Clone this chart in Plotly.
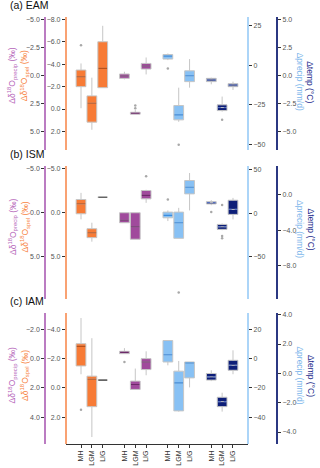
import plotly.graph_objects as go

# ---- data: (lower whisker, q1, median, q3, upper whisker) per period MH, LGM, LIG
PERIODS = ['MH', 'LGM', 'LIG']
PANELS = ['(a) EAM', '(b) ISM', '(c) IAM']

EAM_SPEL = [(-4.06, -3.47, -2.88, -1.99, -0.07), (-2.79, -1.17, -0.51, 1.17, 1.85), (-7.41, -5.99, -3.62, -1.90, -1.90)]
EAM_SPEL_OUT = [[-5.69], [], []]
EAM_D18O = [(-0.32, -0.12, 0.06, 0.27, 0.36), (3.07, 3.29, 3.38, 3.46, 3.46), (-1.59, -1.06, -0.83, -0.56, -0.08)]
EAM_D18O_OUT = [[], [2.69, 2.93], []]
EAM_PREC = [(3.1, 3.75, 5.6, 6.6, 7.25), (-35.6, -34.4, -31.25, -25.4, -14.2), (-14.2, -10.4, -6.7, -3.6, 3.75)]
EAM_PREC_OUT = [[-2.1], [-50.0], []]
EAM_TEMP = [(-0.80, -0.56, -0.41, -0.27, -0.21), (-3.23, -3.14, -2.87, -2.63, -1.89), (-1.30, -1.01, -0.86, -0.74, -0.56)]
EAM_TEMP_OUT = [[], [-3.96], []]

ISM_SPEL = [(-2.25, -1.50, -1.01, 0.12, 0.75), (1.13, 1.81, 2.26, 2.82, 3.28), (-1.76, -1.76, -1.76, -1.76, -1.76)]
ISM_SPEL_OUT = [[], [], []]
ISM_D18O = [(0.0, 0.0, 0.86, 1.13, 1.13), (0.0, 0.0, 1.58, 3.0, 3.0), (-2.6, -2.52, -1.96, -1.57, -1.12)]
ISM_D18O_OUT = [[], [], [-4.13]]
ISM_PREC = [(-8.95, -5.2, -2.45, 1.3, 3.25), (-28.7, -28.7, -10.9, 1.3, 6.2), (3.25, 22.2, 29.8, 37.5, 46.1)]
ISM_PREC_OUT = [[15.8], [-90.7], []]
ISM_TEMP = [(-1.2, -1.06, -0.9, -0.8, -0.64), (-4.0, -3.91, -3.62, -3.35, -3.25), (-2.79, -2.23, -1.67, -0.64, -0.38)]
ISM_TEMP_OUT = [[-1.97], [-1.18, -4.65, -4.91], []]

IAM_SPEL = [(-4.79, -3.03, -2.85, -1.51, -0.94), (-3.41, -0.81, -0.60, 1.28, 3.36), (-0.54, -0.54, -0.54, -0.54, -0.54)]
IAM_SPEL_OUT = [[1.50], [], []]
IAM_D18O = [(-0.73, -0.51, -0.44, -0.35, -0.35), (0.67, 1.53, 1.76, 2.10, 2.10), (-0.51, -0.01, 0.22, 0.74, 1.13)]
IAM_D18O_OUT = [[0.22], [], []]
IAM_PREC = [(-4.5, -2.2, 2.8, 12.5, 12.5), (-36.2, -35.7, -16.5, -8.5, -1.5), (-19.6, -13.1, -2.9, -2.2, -2.2)]
IAM_PREC_OUT = [[], [], []]
IAM_TEMP = [(-0.53, -0.46, -0.24, -0.01, 0.21), (-2.61, -2.27, -1.93, -1.63, -1.32), (-0.06, 0.21, 0.55, 0.89, 1.57)]
IAM_TEMP_OUT = [[], [], []]

# tick values per panel / axis
TICKS_D18O = [[-5.0, -2.5, 0.0, 2.5, 5.0], [-5.0, 0.0, 5.0], [-2.0, 0.0, 2.0, 4.0]]
TICKS_SPEL = [[-8.0, -6.0, -4.0, -2.0, 0.0, 2.0], [-5.0, 0.0, 5.0], [-4.0, -2.0, 0.0, 2.0]]
TICKS_PREC = [[25, 0, -25, -50], [50, 0, -50], [20, 0, -20, -40]]
TICKS_TEMP = [[5.0, 2.5, 0.0, -2.5, -5.0], [0.0, -4.0, -8.0], [4.0, 2.0, 0.0, -2.0, -4.0]]

# ---- styling
W, H = 320, 468
FONT = 'Liberation Sans, Arial, sans-serif'
PANEL_PX = [(15, 148.3), (165, 298), (312.7, 443.5)]
R_D18O = [[6.62, -5.2], [9.74, -5.26], [5.81, -3.11]]
R_SPEL = [[3.62, -8.2], [9.74, -5.26], [3.81, -5.11]]
R_PREC = [[-53.1, 30.2], [-97.9, 53.8], [-58.1, 31.1]]
R_TEMP = [[-6.62, 5.2], [-11.68, 3.16], [-4.79, 4.09]]
TITLE_Y = [74, 226, 375]
TITLE_Y_R = [80, 228, 375]

VARS = [  # fill, median, axis line, title colour, axis x px, side
    dict(fill='#f77b36', med='#b8521c', line='#f9a273', title='#f7843f', pos=65.7, side='left'),   # speleo
    dict(fill='#a04a9c', med='#6c2a69', line='#bb7cc2', title='#b566ba', pos=45.0, side='left'),   # d18O precip
    dict(fill='#88c1f4', med='#3b8de0', line='#acd5f8', title='#80b7eb', pos=248.3, side='right'), # precip
    dict(fill='#0d1e78', med='#5570c0', line='#2b3882', title='#1c2b8c', pos=277.3, side='right'), # temp
]

DATA = [
    [(EAM_SPEL, EAM_SPEL_OUT), (EAM_D18O, EAM_D18O_OUT), (EAM_PREC, EAM_PREC_OUT), (EAM_TEMP, EAM_TEMP_OUT)],
    [(ISM_SPEL, ISM_SPEL_OUT), (ISM_D18O, ISM_D18O_OUT), (ISM_PREC, ISM_PREC_OUT), (ISM_TEMP, ISM_TEMP_OUT)],
    [(IAM_SPEL, IAM_SPEL_OUT), (IAM_D18O, IAM_D18O_OUT), (IAM_PREC, IAM_PREC_OUT), (IAM_TEMP, IAM_TEMP_OUT)],
]
TICKS = [TICKS_SPEL, TICKS_D18O, TICKS_PREC, TICKS_TEMP]
RANGES = [R_SPEL, R_D18O, R_PREC, R_TEMP]

BOXW = 0.9
x_positions = [4 * g + i for g in range(4) for i in range(3)]

fig = go.Figure()
layout = {}
annotations = []

for p in range(3):
    xname = 'x' if p == 0 else f'x{p + 1}'
    top, bot = PANEL_PX[p]
    dom = [1 - bot / H, 1 - top / H]
    base = 4 * p + 1
    for v in range(4):
        yi = base + v
        yname = 'y' if yi == 1 else f'y{yi}'
        st = VARS[v]
        stats, outs = DATA[p][v]
        for i, (lo, q1, md, q3, hi) in enumerate(stats):
            xp = 4 * v + i
            fig.add_trace(go.Box(
                x=[xp], q1=[q1], median=[md], q3=[q3], lowerfence=[lo], upperfence=[hi],
                width=BOXW, whiskerwidth=0, fillcolor=st['fill'],
                line=dict(color='#c6c6c6', width=1), boxpoints=False,
                xaxis=xname, yaxis=yname, showlegend=False, hoverinfo='skip'))
            mcol = '#444444' if q1 == q3 else st['med']
            fig.add_trace(go.Scatter(
                x=[xp - BOXW / 2 + 0.05, xp + BOXW / 2 - 0.05], y=[md, md], mode='lines',
                line=dict(color=mcol, width=1.1, dash='dot' if v == 3 else 'solid'),
                xaxis=xname, yaxis=yname, showlegend=False, hoverinfo='skip'))
            if outs[i]:
                fig.add_trace(go.Scatter(
                    x=[xp] * len(outs[i]), y=outs[i], mode='markers',
                    marker=dict(color='#a8a8a8', size=2.5),
                    xaxis=xname, yaxis=yname, showlegend=False, hoverinfo='skip'))

        fmt = 'd' if v == 2 else '.1f'
        ax = dict(domain=dom, range=RANGES[v][p], anchor='free', position=st['pos'] / W,
                  side=st['side'], showgrid=False, zeroline=False,
                  showline=True, linecolor=st['line'], linewidth=1.6,
                  ticks='outside', ticklen=3, tickwidth=1, tickcolor='#333',
                  tickvals=TICKS[v][p], tickformat=fmt,
                  tickfont=dict(size=7, color='#555', family=FONT))
        if v > 0:
            ax['overlaying'] = 'y' if base == 1 else f'y{base}'
        layout['yaxis' if yi == 1 else f'yaxis{yi}'] = ax

    basey = 'y' if base == 1 else f'y{base}'
    xa = dict(domain=[65.7 / W, 248.3 / W], range=[-1.41, 15.41], anchor=basey,
              showgrid=False, zeroline=False)
    if p == 2:
        xa.update(showline=True, linecolor='#333', linewidth=1.2, ticks='outside',
                  ticklen=3, tickcolor='#333', tickvals=x_positions,
                  ticktext=PERIODS * 4, tickangle=-90,
                  tickfont=dict(size=7, color='#333', family=FONT))
    else:
        xa.update(visible=False)
    layout['xaxis' if p == 0 else f'xaxis{p + 1}'] = xa

    # panel label and axis titles
    annotations.append(dict(text=PANELS[p], x=8 / W, y=1 - (top - 4) / H, xref='paper', yref='paper',
                            xanchor='left', yanchor='bottom', showarrow=False,
                            font=dict(size=10.5, color='#111', family=FONT)))
    for txt, xpx, ypx, col, ang in [
        ('Δδ<sup>18</sup>O<sub>precip</sub> (‰)', 12, TITLE_Y[p], VARS[1]['title'], -90),
        ('Δδ<sup>18</sup>O<sub>spel</sub> (‰)', 24.5, TITLE_Y[p], VARS[0]['title'], -90),
        ('Δprecip (mm/d)', 300, TITLE_Y_R[p], VARS[2]['title'], 90),
        ('Δtemp (°C)', 310.5, TITLE_Y_R[p], VARS[3]['title'], 90),
    ]:
        annotations.append(dict(text=txt, x=xpx / W, y=1 - ypx / H, xref='paper', yref='paper',
                                xanchor='center', yanchor='middle', textangle=ang,
                                showarrow=False, font=dict(size=8.5, color=col, family=FONT)))

fig.update_layout(
    width=W, height=H, margin=dict(l=0, r=0, t=0, b=0),
    paper_bgcolor='white', plot_bgcolor='white',
    font=dict(family=FONT), annotations=annotations, **layout)

# page body has a default 8px margin; drop it so the figure fills the window
fig.write_html('out.html', config={'displayModeBar': False},
               post_script="document.body.style.margin='0';")
